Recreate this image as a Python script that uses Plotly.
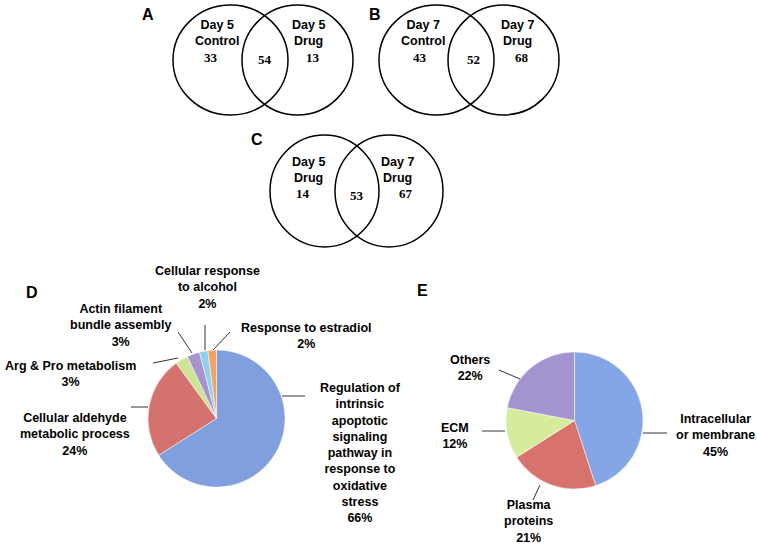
import plotly.graph_objects as go

# Venn diagram data
venn_a_sets = ["Day 5<br>Control", "Day 5<br>Drug"]
venn_a_counts = [33, 54, 13]
venn_b_sets = ["Day 7<br>Control", "Day 7<br>Drug"]
venn_b_counts = [43, 52, 68]
venn_c_sets = ["Day 5<br>Drug", "Day 7<br>Drug"]
venn_c_counts = [14, 53, 67]

# Pie D data
pie_d_labels = ["Regulation of<br>intrinsic<br>apoptotic<br>signaling<br>pathway in<br>response to<br>oxidative<br>stress",
                "Cellular aldehyde<br>metabolic process",
                "Arg & Pro metabolism",
                "Actin filament<br>bundle assembly",
                "Cellular response<br>to alcohol",
                "Response to estradiol"]
pie_d_values = [66, 24, 3, 3, 2, 2]

# Pie E data
pie_e_labels = ["Intracellular<br>or membrane", "Plasma<br>proteins", "ECM", "Others"]
pie_e_values = [45, 21, 12, 22]

W, H = 757, 545
SANS = "Liberation Sans, Arial, sans-serif"
SERIF = "Liberation Serif, Times New Roman, serif"

fig = go.Figure()

def dom(cx, cy, r):
    return dict(x=[(cx - r) / W, (cx + r) / W], y=[1 - (cy + r) / H, 1 - (cy - r) / H])

fig.add_trace(go.Pie(
    labels=[l.replace("<br>", " ") for l in pie_d_labels], values=pie_d_values,
    sort=False, direction="clockwise", rotation=0, textinfo="none",
    marker=dict(colors=["#7f9fdf", "#d4736e", "#cfe396", "#a595cc", "#93cfee", "#f2a462"],
                line=dict(color="white", width=0.5)),
    domain=dom(216.5, 418.5, 68.5), showlegend=False, hoverinfo="label+percent"))

fig.add_trace(go.Pie(
    labels=[l.replace("<br>", " ") for l in pie_e_labels], values=pie_e_values,
    sort=False, direction="clockwise", rotation=0, textinfo="none",
    marker=dict(colors=["#84a5e6", "#d8726c", "#d6ec9c", "#a393cf"],
                line=dict(color="white", width=0.5)),
    domain=dom(574.5, 420.5, 68.5), showlegend=False, hoverinfo="label+percent"))

shapes = []
annotations = []

def txt(x, y, s, size=12.5, family=SANS):
    annotations.append(dict(x=x, y=y, xref="x", yref="y", text=s, showarrow=False,
                            font=dict(family=family, size=size, color="black", weight="bold"),
                            xanchor="center", yanchor="middle", align="center"))

def line(x0, y0, x1, y1):
    shapes.append(dict(type="line", xref="x", yref="y", x0=x0, y0=y0, x1=x1, y1=y1,
                       line=dict(color="#333333", width=1)))

def venn(letter, lpos, left_box, right_box, sets, counts, spots):
    txt(lpos[0], lpos[1], letter, size=16)
    for b in (left_box, right_box):
        shapes.append(dict(type="circle", xref="x", yref="y", x0=b[0], x1=b[1], y0=b[2], y1=b[3],
                           line=dict(color="black", width=1.5)))
    txt(spots[0][0], spots[0][1], sets[0])
    txt(spots[1][0], spots[1][1], sets[1])
    for (x, y), c in zip(spots[2:], counts):
        txt(x, y, str(c), size=13, family=SERIF)

venn("A", (148, 14), (173, 288, 5, 115), (242, 353, 5, 115), venn_a_sets, venn_a_counts,
     [(217, 33), (308, 33), (211, 57), (265, 59), (313, 57)])
venn("B", (375, 14), (379, 494, 5, 115), (448, 559, 5, 115), venn_b_sets, venn_b_counts,
     [(423, 33), (517, 33), (420, 57), (473, 59), (522, 57)])
venn("C", (257, 139), (270, 379, 135, 247), (335, 443, 135, 247), venn_c_sets, venn_c_counts,
     [(308, 170), (397, 170), (303, 193), (357, 195), (406, 193)])

# Pie D labels
txt(32, 292, "D", size=16)
d_pos = [(360, 453), (75, 434), (70, 374), (120, 325), (207, 287), (306, 336)]
for (x, y), lab, v in zip(d_pos, pie_d_labels, pie_d_values):
    txt(x, y, f"{lab}<br>{v}%")
line(282, 396, 305, 396)
line(131, 407, 148, 407)
line(153, 363, 178, 358)
line(178, 332, 192, 353)
line(205, 325, 205, 350)
line(230, 332, 213, 350)

# Pie E labels
txt(422, 290, "E", size=16)
e_pos = [(715, 435), (528, 521), (455, 436), (470, 368)]
for (x, y), lab, v in zip(e_pos, pie_e_labels, pie_e_values):
    txt(x, y, f"{lab}<br>{v}%")
line(643, 433, 667, 433)
line(540, 485, 533, 500)
line(482, 431, 505, 431)
line(499, 370, 520, 379)

fig.update_layout(
    width=W, height=H, autosize=False,
    margin=dict(l=0, r=0, t=0, b=0),
    paper_bgcolor="white", plot_bgcolor="white",
    xaxis=dict(range=[0, W], visible=False, fixedrange=True),
    yaxis=dict(range=[H, 0], visible=False, fixedrange=True),
    shapes=shapes, annotations=annotations,
)

fig.write_html("out.html", config={"displayModeBar": False},
               post_script="document.body.style.margin='0';")
